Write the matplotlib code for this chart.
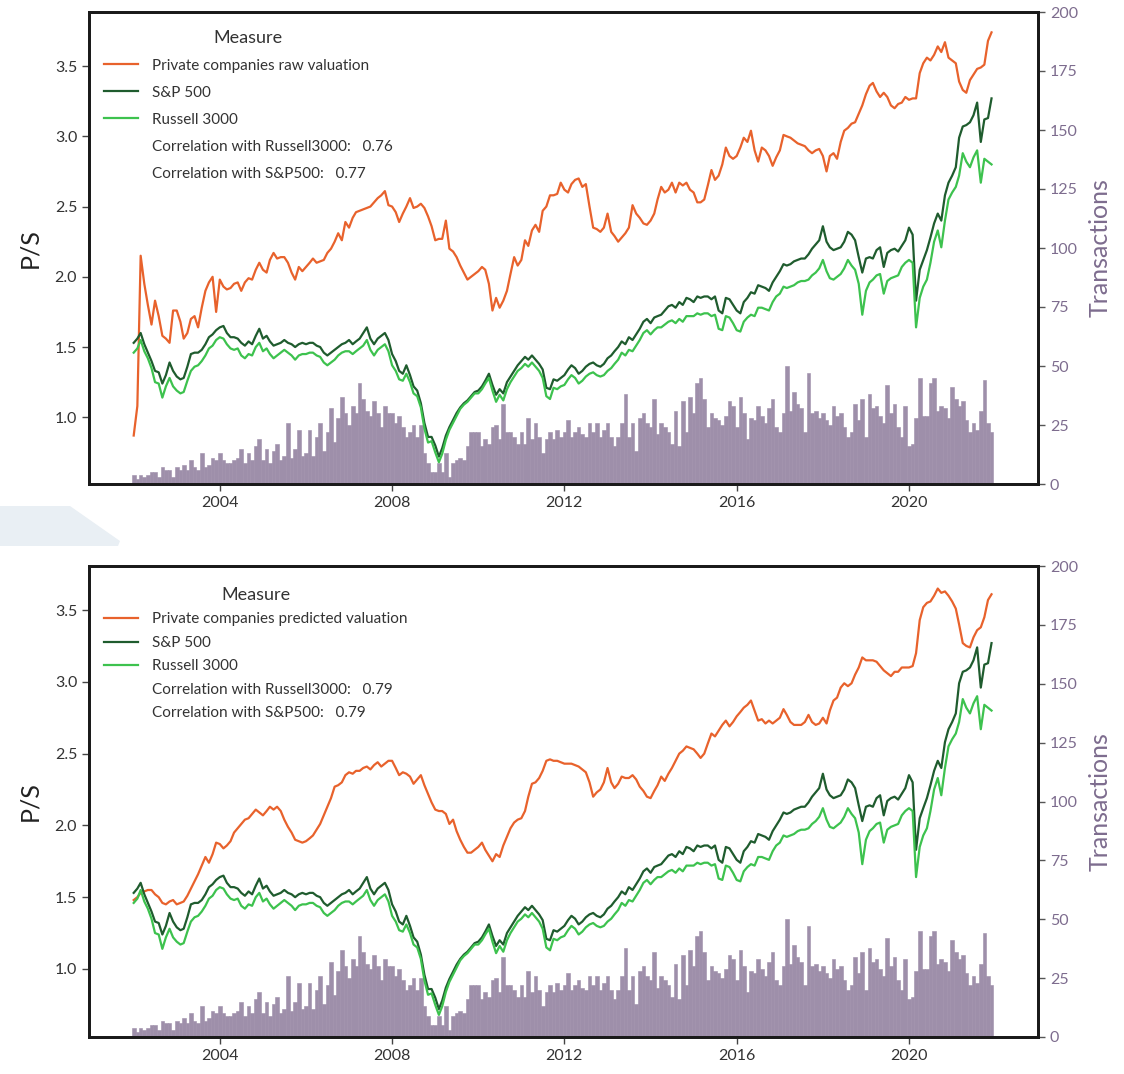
import numpy as np
import pandas as pd
import matplotlib
matplotlib.use("Agg")
import matplotlib.pyplot as plt
import matplotlib.dates as mdates
from matplotlib.lines import Line2D
from matplotlib.patches import Polygon
import datetime as dt

plt.rcParams['font.family'] = ['Lato', 'DejaVu Sans']

# ---------------- data (monthly, Jan 2002 - Dec 2021) ----------------
dates = pd.date_range('2002-01-01', periods=240, freq='MS')

raw_valuation = [
    0.87, 1.08, 2.15, 1.95, 1.80, 1.66, 1.83, 1.72, 1.58, 1.56, 1.53, 1.76,
    1.76, 1.68, 1.56, 1.60, 1.70, 1.72, 1.64, 1.78, 1.90, 1.96, 2.00, 1.75,
    1.98, 1.93, 1.91, 1.92, 1.95, 1.96, 1.90, 1.96, 1.99, 1.98, 2.05, 2.10,
    2.05, 2.03, 2.12, 2.17, 2.13, 2.14, 2.14, 2.10, 2.03, 1.98, 2.07, 2.04,
    2.07, 2.10, 2.13, 2.10, 2.11, 2.12, 2.17, 2.20, 2.25, 2.31, 2.26, 2.39,
    2.35, 2.42, 2.46, 2.47, 2.48, 2.49, 2.50, 2.53, 2.56, 2.58, 2.61, 2.51,
    2.50, 2.46, 2.39, 2.45, 2.50, 2.56, 2.49, 2.50, 2.52, 2.49, 2.43, 2.36,
    2.26, 2.27, 2.27, 2.40, 2.20, 2.18, 2.14, 2.08, 2.03, 1.98, 2.00, 2.02,
    2.04, 2.07, 2.05, 1.95, 1.76, 1.85, 1.78, 1.83, 1.90, 2.02, 2.14, 2.08,
    2.12, 2.26, 2.22, 2.33, 2.37, 2.32, 2.47, 2.50, 2.58, 2.58, 2.59, 2.67,
    2.62, 2.60, 2.66, 2.69, 2.70, 2.64, 2.66, 2.50, 2.35, 2.34, 2.32, 2.35,
    2.45, 2.32, 2.29, 2.25, 2.28, 2.31, 2.35, 2.51, 2.45, 2.42, 2.38, 2.37,
    2.40, 2.45, 2.55, 2.64, 2.60, 2.62, 2.67, 2.60, 2.67, 2.65, 2.67, 2.62,
    2.60, 2.53, 2.53, 2.55, 2.65, 2.76, 2.69, 2.72, 2.80, 2.92, 2.86, 2.84,
    2.86, 2.92, 2.99, 2.96, 3.04, 2.90, 2.82, 2.92, 2.90, 2.86, 2.79, 2.85,
    2.90, 3.01, 3.00, 2.99, 2.97, 2.95, 2.94, 2.93, 2.90, 2.88, 2.90, 2.91,
    2.86, 2.75, 2.86, 2.88, 2.84, 2.96, 3.04, 3.06, 3.09, 3.10, 3.16, 3.22,
    3.30, 3.36, 3.38, 3.32, 3.28, 3.31, 3.28, 3.22, 3.20, 3.23, 3.24, 3.28,
    3.26, 3.27, 3.27, 3.45, 3.52, 3.56, 3.54, 3.58, 3.64, 3.60, 3.67, 3.56,
    3.54, 3.52, 3.39, 3.33, 3.31, 3.40, 3.44, 3.48, 3.49, 3.51, 3.68, 3.74,
]

predicted_valuation = [
    1.48, 1.50, 1.53, 1.54, 1.55, 1.55, 1.52, 1.50, 1.46, 1.45, 1.47, 1.48,
    1.45, 1.46, 1.47, 1.51, 1.56, 1.61, 1.66, 1.72, 1.78, 1.74, 1.80, 1.88,
    1.87, 1.84, 1.86, 1.89, 1.95, 1.98, 2.01, 2.04, 2.05, 2.08, 2.11, 2.09,
    2.07, 2.10, 2.13, 2.11, 2.13, 2.10, 2.04, 1.99, 1.95, 1.90, 1.89, 1.88,
    1.89, 1.91, 1.93, 1.97, 2.01, 2.07, 2.13, 2.19, 2.27, 2.28, 2.30, 2.35,
    2.37, 2.36, 2.38, 2.38, 2.40, 2.41, 2.39, 2.42, 2.44, 2.41, 2.43, 2.45,
    2.45, 2.40, 2.35, 2.37, 2.36, 2.34, 2.29, 2.32, 2.35, 2.28, 2.22, 2.16,
    2.11, 2.10, 2.10, 2.08, 2.01, 2.04, 1.96, 1.90, 1.85, 1.81, 1.81, 1.83,
    1.85, 1.88, 1.83, 1.79, 1.75, 1.80, 1.78, 1.86, 1.92, 1.98, 2.02, 2.04,
    2.05, 2.10, 2.20, 2.29, 2.30, 2.33, 2.38, 2.45, 2.46, 2.45, 2.45, 2.44,
    2.43, 2.43, 2.43, 2.42, 2.41, 2.39, 2.37, 2.30, 2.20, 2.23, 2.25, 2.30,
    2.40, 2.30, 2.26, 2.29, 2.34, 2.33, 2.33, 2.35, 2.32, 2.27, 2.24, 2.20,
    2.19, 2.24, 2.28, 2.34, 2.31, 2.36, 2.40, 2.45, 2.50, 2.52, 2.55, 2.54,
    2.53, 2.50, 2.47, 2.50, 2.57, 2.64, 2.62, 2.66, 2.70, 2.73, 2.69, 2.72,
    2.76, 2.79, 2.82, 2.84, 2.87, 2.80, 2.73, 2.74, 2.71, 2.73, 2.71, 2.73,
    2.75, 2.81, 2.77, 2.72, 2.70, 2.70, 2.70, 2.72, 2.77, 2.72, 2.70, 2.71,
    2.75, 2.71, 2.80, 2.87, 2.89, 2.96, 2.99, 2.97, 2.99, 3.05, 3.10, 3.17,
    3.15, 3.15, 3.15, 3.14, 3.11, 3.08, 3.06, 3.04, 3.07, 3.07, 3.10, 3.10,
    3.10, 3.11, 3.20, 3.43, 3.52, 3.55, 3.56, 3.60, 3.65, 3.62, 3.63, 3.60,
    3.56, 3.51, 3.40, 3.27, 3.25, 3.24, 3.31, 3.36, 3.38, 3.45, 3.57, 3.61,
]

sp500 = [
    1.53, 1.56, 1.60, 1.52, 1.46, 1.40, 1.33, 1.32, 1.24, 1.30, 1.39, 1.33,
    1.29, 1.27, 1.28, 1.36, 1.45, 1.46, 1.46, 1.48, 1.52, 1.57, 1.59, 1.62,
    1.64, 1.65, 1.60, 1.57, 1.57, 1.56, 1.53, 1.51, 1.54, 1.52, 1.58, 1.63,
    1.56, 1.58, 1.54, 1.51, 1.52, 1.53, 1.55, 1.53, 1.52, 1.50, 1.52, 1.53,
    1.52, 1.53, 1.53, 1.51, 1.50, 1.46, 1.44, 1.46, 1.48, 1.50, 1.52, 1.53,
    1.55, 1.52, 1.54, 1.56, 1.60, 1.64, 1.56, 1.52, 1.56, 1.58, 1.60, 1.55,
    1.45, 1.40, 1.33, 1.31, 1.37, 1.30, 1.22, 1.19, 1.10, 0.96, 0.86, 0.86,
    0.80, 0.72, 0.78, 0.87, 0.93, 0.98, 1.03, 1.07, 1.10, 1.12, 1.15, 1.18,
    1.19, 1.22, 1.26, 1.31, 1.23, 1.16, 1.20, 1.17, 1.25, 1.29, 1.33, 1.37,
    1.40, 1.43, 1.41, 1.44, 1.41, 1.38, 1.34, 1.21, 1.20, 1.27, 1.26, 1.28,
    1.30, 1.34, 1.37, 1.35, 1.31, 1.33, 1.36, 1.38, 1.39, 1.37, 1.36, 1.38,
    1.42, 1.44, 1.47, 1.50, 1.54, 1.52, 1.57, 1.55, 1.59, 1.63, 1.68, 1.70,
    1.67, 1.71, 1.72, 1.73, 1.76, 1.79, 1.80, 1.78, 1.82, 1.80, 1.85, 1.84,
    1.82, 1.86, 1.85, 1.86, 1.86, 1.84, 1.86, 1.76, 1.74, 1.85, 1.84, 1.80,
    1.76, 1.74, 1.82, 1.85, 1.89, 1.88, 1.94, 1.93, 1.92, 1.90, 1.96, 2.00,
    2.04, 2.09, 2.08, 2.09, 2.11, 2.12, 2.13, 2.13, 2.16, 2.20, 2.23, 2.26,
    2.36, 2.25, 2.21, 2.19, 2.20, 2.21, 2.25, 2.32, 2.30, 2.26, 2.14, 2.03,
    2.13, 2.14, 2.13, 2.19, 2.21, 2.07, 2.17, 2.19, 2.20, 2.18, 2.22, 2.26,
    2.35, 2.30, 1.83, 2.05, 2.12, 2.19, 2.28, 2.38, 2.45, 2.40, 2.58, 2.67,
    2.72, 2.78, 2.99, 3.07, 3.08, 3.10, 3.15, 3.24, 2.96, 3.12, 3.13, 3.27,
]

russell3000 = [
    1.46, 1.49, 1.55, 1.47, 1.42, 1.35, 1.25, 1.24, 1.14, 1.22, 1.28, 1.22,
    1.19, 1.17, 1.18, 1.26, 1.33, 1.36, 1.37, 1.40, 1.44, 1.49, 1.51, 1.55,
    1.57, 1.56, 1.52, 1.49, 1.48, 1.49, 1.44, 1.42, 1.45, 1.44, 1.50, 1.53,
    1.47, 1.49, 1.45, 1.42, 1.44, 1.46, 1.48, 1.46, 1.44, 1.41, 1.44, 1.45,
    1.45, 1.46, 1.46, 1.44, 1.43, 1.39, 1.37, 1.39, 1.41, 1.44, 1.46, 1.47,
    1.47, 1.45, 1.47, 1.49, 1.51, 1.55, 1.48, 1.44, 1.48, 1.50, 1.52, 1.47,
    1.37, 1.33, 1.27, 1.26, 1.31, 1.25, 1.17, 1.15, 1.07, 0.92, 0.82, 0.83,
    0.75, 0.68, 0.74, 0.84, 0.91, 0.96, 1.01, 1.06, 1.09, 1.11, 1.14, 1.17,
    1.17, 1.20, 1.24, 1.28, 1.19, 1.11, 1.16, 1.12, 1.20, 1.25, 1.29, 1.33,
    1.35, 1.38, 1.36, 1.39, 1.36, 1.33, 1.28, 1.15, 1.13, 1.21, 1.20, 1.22,
    1.23, 1.27, 1.30, 1.28, 1.24, 1.26, 1.29, 1.31, 1.32, 1.30, 1.29, 1.30,
    1.33, 1.35, 1.38, 1.41, 1.46, 1.44, 1.48, 1.47, 1.51, 1.55, 1.60, 1.62,
    1.59, 1.62, 1.64, 1.64, 1.66, 1.68, 1.69, 1.67, 1.70, 1.68, 1.72, 1.72,
    1.72, 1.74, 1.73, 1.74, 1.74, 1.72, 1.73, 1.63, 1.62, 1.72, 1.71, 1.67,
    1.62, 1.61, 1.68, 1.71, 1.73, 1.72, 1.78, 1.78, 1.77, 1.76, 1.82, 1.86,
    1.88, 1.93, 1.92, 1.93, 1.94, 1.96, 1.97, 1.97, 1.98, 2.01, 2.03, 2.06,
    2.12, 2.04, 1.99, 1.98, 2.00, 2.02, 2.06, 2.12, 2.08, 2.05, 1.95, 1.73,
    1.90, 1.96, 1.98, 2.01, 2.02, 1.88, 1.97, 1.99, 2.00, 2.01, 2.07, 2.10,
    2.12, 2.10, 1.64, 1.85, 1.93, 1.98, 2.10, 2.25, 2.33, 2.21, 2.40, 2.55,
    2.60, 2.64, 2.72, 2.88, 2.82, 2.78, 2.85, 2.90, 2.67, 2.84, 2.82, 2.80,
]

transactions = [
    4, 2, 4, 3, 4, 5, 5, 3, 7, 6, 6, 3,
    7, 6, 8, 6, 10, 7, 6, 13, 7, 8, 11, 10,
    13, 10, 9, 9, 10, 11, 15, 9, 13, 10, 16, 19,
    10, 15, 9, 14, 17, 10, 12, 26, 11, 15, 23, 12,
    13, 23, 12, 20, 26, 14, 22, 32, 18, 28, 37, 30,
    25, 33, 30, 43, 36, 31, 29, 35, 30, 24, 33, 30,
    30, 26, 29, 24, 20, 22, 25, 20, 25, 13, 9, 5,
    5, 9, 5, 13, 3, 9, 10, 11, 10, 16, 22, 22,
    22, 16, 19, 17, 24, 25, 19, 34, 22, 22, 20, 17,
    22, 17, 28, 19, 26, 20, 13, 19, 22, 19, 23, 20,
    22, 27, 20, 22, 24, 21, 20, 26, 22, 26, 20, 23,
    26, 20, 16, 20, 26, 38, 20, 26, 14, 28, 30, 26,
    24, 36, 21, 26, 24, 22, 17, 31, 16, 35, 22, 37,
    30, 43, 45, 36, 24, 30, 28, 27, 25, 29, 35, 33,
    24, 37, 30, 19, 28, 27, 33, 29, 26, 32, 36, 24,
    22, 30, 50, 31, 39, 34, 32, 22, 47, 30, 31, 28,
    30, 27, 25, 33, 29, 30, 24, 20, 22, 34, 27, 36,
    20, 38, 32, 33, 29, 26, 42, 30, 34, 24, 20, 33,
    16, 17, 28, 45, 29, 29, 43, 45, 31, 33, 32, 28,
    41, 36, 33, 35, 27, 22, 26, 23, 31, 44, 26, 22,
]

panels = [
    dict(label="Private companies raw valuation", values=raw_valuation,
         corr_r="0.76", corr_s="0.77"),
    dict(label="Private companies predicted valuation", values=predicted_valuation,
         corr_r="0.79", corr_s="0.79"),
]

# ---------------- style ----------------
C_ORANGE = "#E8622C"
C_DARK = "#1F5C2E"
C_LIGHT = "#3DC24E"
C_BAR = "#9E8FAA"
C_RIGHT = "#7D6C8E"
C_TEXT = "#333333"

W, H = 1124, 1074
fig = plt.figure(figsize=(W / 100, H / 100), dpi=100)

# faint background shape at the left margin (screenshot artefact)
poly = Polygon([(0 / W, 1 - 506 / H), (70 / W, 1 - 506 / H), (120 / W, 1 - 541 / H),
                (118 / W, 1 - 546 / H), (0 / W, 1 - 546 / H)],
               closed=True, transform=fig.transFigure, facecolor="#E9EFF4",
               edgecolor="none", zorder=0)
fig.patches.append(poly)

boxes = [(89, 12, 1038, 484), (89, 566, 1038, 1037)]
ylims = [(0.525, 3.885), (0.526, 3.807)]
legend_spacing = [0.85, 0.62]
legend_anchor_y = [0.995, 0.988]

xmin = mdates.date2num(dt.datetime(2000, 12, 18))
xmax = mdates.date2num(dt.datetime(2022, 12, 30))

for i, (p, box) in enumerate(zip(panels, boxes)):
    x0, y0, x1, y1 = box
    rect = [x0 / W, 1 - y1 / H, (x1 - x0) / W, (y1 - y0) / H]
    ax = fig.add_axes(rect)
    ax2 = ax.twinx()

    # bars on the secondary axis, behind the lines
    ax2.bar(dates, transactions, width=31, color=C_BAR, align='center',
            linewidth=0.4, edgecolor=C_BAR, zorder=1)
    ax2.set_ylim(0, 200)
    ax2.set_yticks(np.arange(0, 201, 25))
    ax2.set_ylabel("Transactions", fontsize=18, color=C_RIGHT, labelpad=8)
    ax2.tick_params(axis='y', colors='#555555', labelsize=11.5, length=5, width=1,
                    labelcolor=C_RIGHT)

    ax.set_zorder(ax2.get_zorder() + 1)
    ax.patch.set_visible(False)

    l1, = ax.plot(dates, p["values"], color=C_ORANGE, lw=1.6)
    l2, = ax.plot(dates, sp500, color=C_DARK, lw=1.6)
    l3, = ax.plot(dates, russell3000, color=C_LIGHT, lw=1.6)

    ax.set_xlim(xmin, xmax)
    ax.set_ylim(*ylims[i])
    ax.set_yticks([1.0, 1.5, 2.0, 2.5, 3.0, 3.5])
    ax.set_yticklabels(["1.0", "1.5", "2.0", "2.5", "3.0", "3.5"])
    ax.set_ylabel("P/S", fontsize=18, color="#222222", labelpad=10)
    ax.xaxis.set_major_locator(mdates.YearLocator(4))
    ax.xaxis.set_major_formatter(mdates.DateFormatter('%Y'))
    ax.tick_params(axis='both', labelsize=11.5, length=5, width=1,
                   colors="#444444", labelcolor=C_TEXT)

    for a in (ax, ax2):
        for s in a.spines.values():
            s.set_linewidth(2)
            s.set_color("#1a1a1a")

    blank1 = Line2D([], [], color='none')
    blank2 = Line2D([], [], color='none')
    handles = [l1, l2, l3, blank1, blank2]
    labels = [p["label"], "S&P 500", "Russell 3000",
              "Correlation with Russell3000:   " + p["corr_r"],
              "Correlation with S&P500:   " + p["corr_s"]]
    leg = ax.legend(handles, labels, title="Measure", loc='upper left',
                    bbox_to_anchor=(0.0, legend_anchor_y[i]), frameon=False,
                    fontsize=11, title_fontsize=13,
                    labelspacing=legend_spacing[i],
                    handlelength=2.2, handletextpad=0.9, borderaxespad=0.6)
    for t in leg.get_texts():
        t.set_color(C_TEXT)
    leg.get_title().set_color(C_TEXT)

fig.savefig("out.png", dpi=100)
